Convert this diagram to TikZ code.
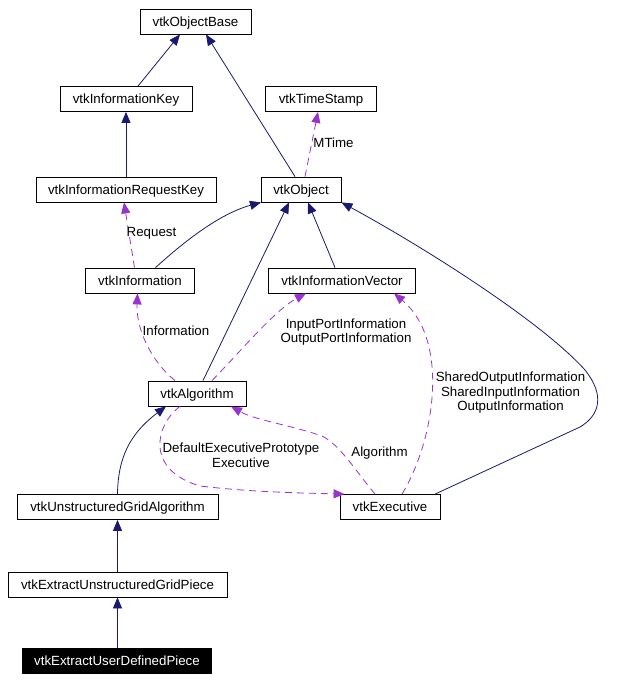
\documentclass[tikz,border=0pt]{standalone}
\usepackage{fontspec}
\setmainfont{Liberation Sans}
\usetikzlibrary{arrows.meta}
\definecolor{navy}{RGB}{25,25,112}
\definecolor{orchid}{RGB}{154,50,205}
\tikzset{
  cls/.style={draw=black, line width=0.8pt, fill=white, inner sep=0pt, minimum height=25pt, text height=9.5pt, text depth=0pt, font=\fontsize{13.3}{15}\selectfont},
  lbl/.style={inner sep=0pt, align=center, font=\fontsize{13.3}{14.5}\selectfont},
  inh/.style={draw=navy, line width=0.8pt, -{Triangle[length=11pt,width=9pt]}},
  use/.style={draw=orchid, line width=0.8pt, dash pattern=on 7pt off 5pt, -{Triangle[length=11pt,width=9pt]}},
}
\begin{document}
\begin{tikzpicture}[x=1pt,y=-1pt]
\useasboundingbox (0,0) rectangle (635,682);
\fill[white] (0,0) rectangle (635,682);
% nodes
\node[cls, minimum width=111pt] (ob) at (195.5,21.5) {vtkObjectBase};
\node[cls, minimum width=132pt] (ikey) at (126,99) {vtkInformationKey};
\node[cls, minimum width=111pt] (ts) at (321,99) {vtkTimeStamp};
\node[cls, minimum width=180pt] (irk) at (126,189.5) {vtkInformationRequestKey};
\node[cls, minimum width=80pt] (obj) at (301,189.5) {vtkObject};
\node[cls, minimum width=109pt] (info) at (140,280.5) {vtkInformation};
\node[cls, minimum width=147pt] (iv) at (342,280.5) {vtkInformationVector};
\node[cls, minimum width=98pt] (alg) at (197,393.5) {vtkAlgorithm};
\node[cls, minimum width=201pt] (uga) at (117.5,507) {vtkUnstructuredGridAlgorithm};
\node[cls, minimum width=100pt] (exec) at (390,507) {vtkExecutive};
\node[cls, minimum width=219pt] (eugp) at (117.5,584.5) {vtkExtractUnstructuredGridPiece};
\node[cls, minimum width=189pt, fill=black, text=white] (eudp) at (117,661) {vtkExtractUserDefinedPiece};
% inheritance edges
\draw[inh] ([xshift=12pt]ikey.north) -- ([xshift=-15.5pt]ob.south);
\draw[inh] ([xshift=-6pt]obj.north) -- ([xshift=10.5pt]ob.south);
\draw[inh] (irk.north) -- (ikey.south);
\draw[inh] ([xshift=15.5pt]info.north) .. controls (175,250) and (215,215) .. ([xshift=-40pt]obj.south);
\draw[inh] ([xshift=6pt]alg.north) -- ([xshift=-12pt]obj.south);
\draw[inh] ([xshift=-7pt]iv.north) -- ([xshift=7pt]obj.south);
\draw[inh] ([xshift=45pt]exec.north) -- (580,427) .. controls (600,415) and (605,395) .. (585,370) .. controls (540,320) and (420,245) .. (obj.south east);
\draw[inh] (uga.north) .. controls (118,460) and (128,435) .. ([xshift=-31pt]alg.south);
\draw[inh] (eugp.north) -- (eugp.north |- uga.south);
\draw[inh] (eugp.north |- eudp.north) -- (eugp.south);
% usage edges
\draw[use] ([xshift=4pt]obj.north) -- ([xshift=-3pt]ts.south);
\node[lbl] (lmtime) at (333.5,143) {MTime};
\draw[use] ([xshift=-5.5pt]info.north) -- ([xshift=-2pt]irk.south);
\node[lbl] (lreq) at (151.5,233) {Request};
\draw[use] ([xshift=-22pt]alg.north) .. controls (152,362) and (136,330) .. ([xshift=-2.5pt]info.south);
\node[lbl] (linfo) at (176,331) {Information};
\draw[use] ([xshift=15pt]alg.north) .. controls (240,352) and (275,310) .. ([xshift=-36pt]iv.south);
\node[lbl] (lport) at (346,332) {InputPortInformation\\OutputPortInformation};
\draw[use] ([xshift=12pt]exec.north) .. controls (435,440) and (450,340) .. ([xshift=52pt]iv.south);
\node[lbl] (lshared) at (510.5,393) {SharedOutputInformation\\SharedInputInformation\\OutputInformation};
\draw[use] ([xshift=-17pt]alg.south) .. controls (155,425) and (145,470) .. (200,486) .. controls (250,492) and (300,493) .. ([xshift=5pt]exec.north west);
\node[lbl] (ldef) at (241,455) {DefaultExecutivePrototype\\Executive};
\draw[use] ([xshift=-15pt]exec.north) .. controls (355,470) and (340,445) .. (322,436) .. controls (290,425) and (255,420) .. ([xshift=34pt]alg.south);
\node[lbl] (lalg) at (379.5,453) {Algorithm};
\end{tikzpicture}
\end{document}
